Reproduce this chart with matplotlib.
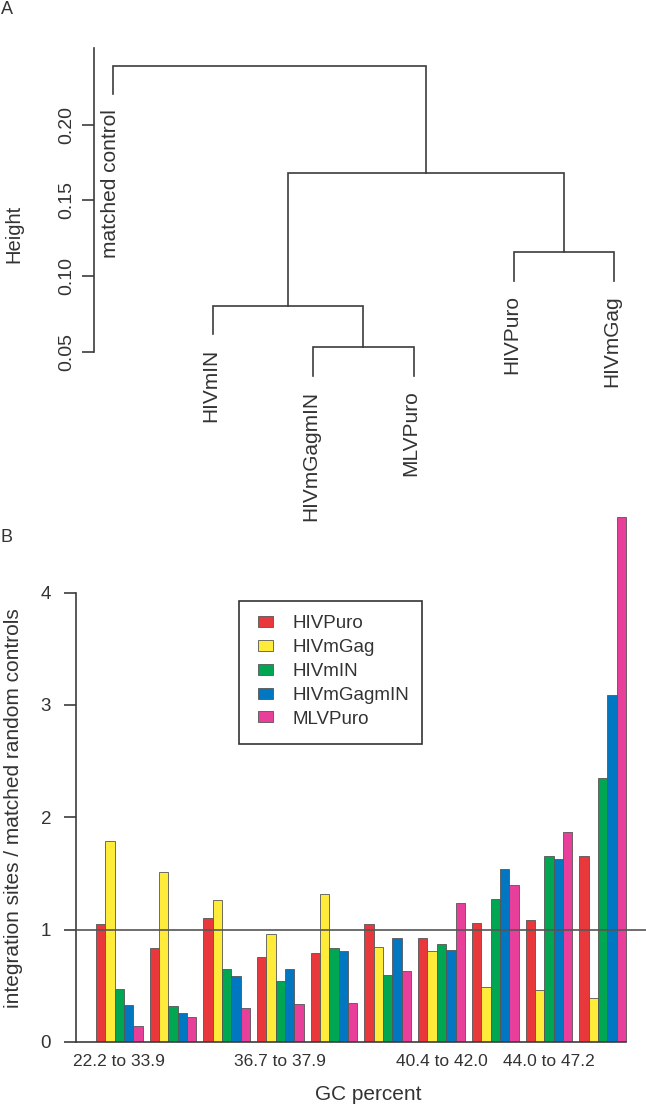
import numpy as np
import matplotlib.pyplot as plt
from matplotlib.patches import Patch, Rectangle

plt.rcParams['font.family'] = ['Liberation Sans', 'DejaVu Sans']

W, H = 646, 1107

# ---- panel A : hclust result (R merge convention, negative = leaf in plot order)
leaf_labels = ["matched control", "HIVmIN", "HIVmGagmIN", "MLVPuro", "HIVPuro", "HIVmGag"]
merge = [(-3, -4), (-2, 1), (-5, -6), (2, 3), (-1, 4)]
merge_height = [0.0529, 0.0804, 0.1157, 0.1678, 0.2389]
hang = 0.0188
height_ticks = [0.05, 0.10, 0.15, 0.20]

# ---- panel B : integration sites / matched random controls by GC bin
series = ["HIVPuro", "HIVmGag", "HIVmIN", "HIVmGagmIN", "MLVPuro"]
colors = ["#e8383b", "#ffec3a", "#00a651", "#0077c0", "#e8409a"]
hivpuro = [1.05, 0.84, 1.10, 0.76, 0.79, 1.05, 0.93, 1.06, 1.09, 1.66]
hivmgag = [1.79, 1.51, 1.26, 0.96, 1.32, 0.85, 0.81, 0.49, 0.46, 0.39]
hivmin = [0.47, 0.32, 0.65, 0.54, 0.84, 0.60, 0.87, 1.27, 1.66, 2.35]
hivmgagmin = [0.33, 0.26, 0.59, 0.65, 0.81, 0.93, 0.82, 1.54, 1.63, 3.09]
mlvpuro = [0.14, 0.22, 0.30, 0.34, 0.35, 0.63, 1.24, 1.40, 1.87, 4.67]
tick_groups = [0, 3, 6, 8]
tick_labels = ["22.2 to 33.9", "36.7 to 37.9", "40.4 to 42.0", "44.0 to 47.2"]


def rect(l, t, r, b):
    # pixel box -> figure fraction
    return [l / W, 1 - b / H, (r - l) / W, (b - t) / H]


fig = plt.figure(figsize=(W / 100, H / 100), dpi=100)
lc = "#3c3c3c"
tc = "#333333"

### A ###
ax = fig.add_axes(rect(94.3, 30, 646, 480))
ax.patch.set_visible(False)
ax.set_xlim(0.817, 6.317)
ax.set_ylim(-0.0347, 0.2625)
nodes = {}
leaf_top = {}
for k, (a, b) in enumerate(merge, start=1):
    h = merge_height[k - 1]
    ends = []
    for c in (a, b):
        if c < 0:
            leaf_top[-c] = h - hang
            ends.append((-c, h - hang))
        else:
            ends.append(nodes[c])
    (x1, h1), (x2, h2) = ends
    ax.plot([x1, x1, x2, x2], [h1, h, h, h2], color=lc, lw=1.2, solid_joinstyle='miter')
    nodes[k] = ((x1 + x2) / 2, h)

for i, lab in enumerate(leaf_labels, start=1):
    ax.annotate(lab, (i, leaf_top[i]), xytext=(-1.8, -10.5), textcoords='offset points',
                rotation=90, ha='center', va='top', fontsize=15, color=tc,
                annotation_clip=False)

for s in ['top', 'right', 'bottom']:
    ax.spines[s].set_visible(False)
ax.spines['left'].set_bounds(0.05, 0.2504)
ax.spines['left'].set_color(lc)
ax.spines['left'].set_linewidth(1.2)
ax.set_xticks([])
ax.set_yticks(height_ticks)
ax.set_yticklabels(['%.2f' % v for v in height_ticks], rotation=90, va='center', fontsize=14, color=tc)
ax.tick_params(axis='y', length=9, width=1.2, color=lc, pad=5)
fig.text(14 / W, 1 - 234 / H, "Height", rotation=90, ha='center', va='center', fontsize=14.5, color=tc)
fig.text(7 / W, 1 - 10 / H, "A", ha='center', va='center', fontsize=13, color=tc)

### B ###
axb = fig.add_axes(rect(76, 505, 646, 1042))
axb.patch.set_visible(False)
period = 5.75
x0 = np.arange(len(hivpuro)) * period
data = [hivpuro, hivmgag, hivmin, hivmgagmin, mlvpuro]
for k, (vals, c) in enumerate(zip(data, colors)):
    axb.bar(x0 + k + 0.5, vals, width=1, color=c, edgecolor='#555555', linewidth=0.6, zorder=2)

xl = (-2.14, 58.9)
axb.set_xlim(*xl)
axb.set_ylim(0, 4.78)
axb.axhline(1, color='#555555', lw=1.2, zorder=3)
axb.plot([xl[0], x0[-1] + 5], [0, 0], color=lc, lw=1.2, clip_on=False, zorder=3)

for s in ['top', 'right', 'bottom']:
    axb.spines[s].set_visible(False)
axb.spines['left'].set_bounds(0, 4)
axb.spines['left'].set_color(lc)
axb.spines['left'].set_linewidth(1.2)
axb.set_yticks([0, 1, 2, 3, 4])
axb.tick_params(axis='y', length=9, width=1.2, color=lc, labelsize=13.5, labelcolor=tc, pad=9)
axb.set_xticks(x0[tick_groups] + 2.5)
axb.set_xticklabels(tick_labels)
axb.tick_params(axis='x', length=0, labelsize=12.5, labelcolor=tc, pad=8.5)

# legend: entries without frame, box drawn separately
handles = [Patch(facecolor=c, edgecolor='#555555', linewidth=0.6, label=s) for s, c in zip(series, colors)]
leg = axb.legend(handles=handles, loc='upper left', bbox_to_anchor=(258.3 / W, 1 - 615.5 / H),
                 bbox_transform=fig.transFigure, borderaxespad=0, borderpad=0, fontsize=13.5,
                 handlelength=0.8, handleheight=0.53, handletextpad=1.03, labelspacing=0.36,
                 frameon=False)
for t in leg.get_texts():
    t.set_color(tc)
fig.add_artist(Rectangle((239 / W, 1 - 744 / H), (422 - 239) / W, (744 - 600.7) / H,
                         transform=fig.transFigure, fill=False, edgecolor=tc, lw=1.2))

fig.text(14 / W, 1 - 808 / H, "integration sites / matched random controls", rotation=90,
         ha='center', va='center', fontsize=15, color=tc)
fig.text(368 / W, 1 - 1094.6 / H, "GC percent", ha='center', va='center', fontsize=15, color=tc)
fig.text(7 / W, 1 - 538 / H, "B", ha='center', va='center', fontsize=13, color=tc)

fig.savefig("out.png", dpi=100)
